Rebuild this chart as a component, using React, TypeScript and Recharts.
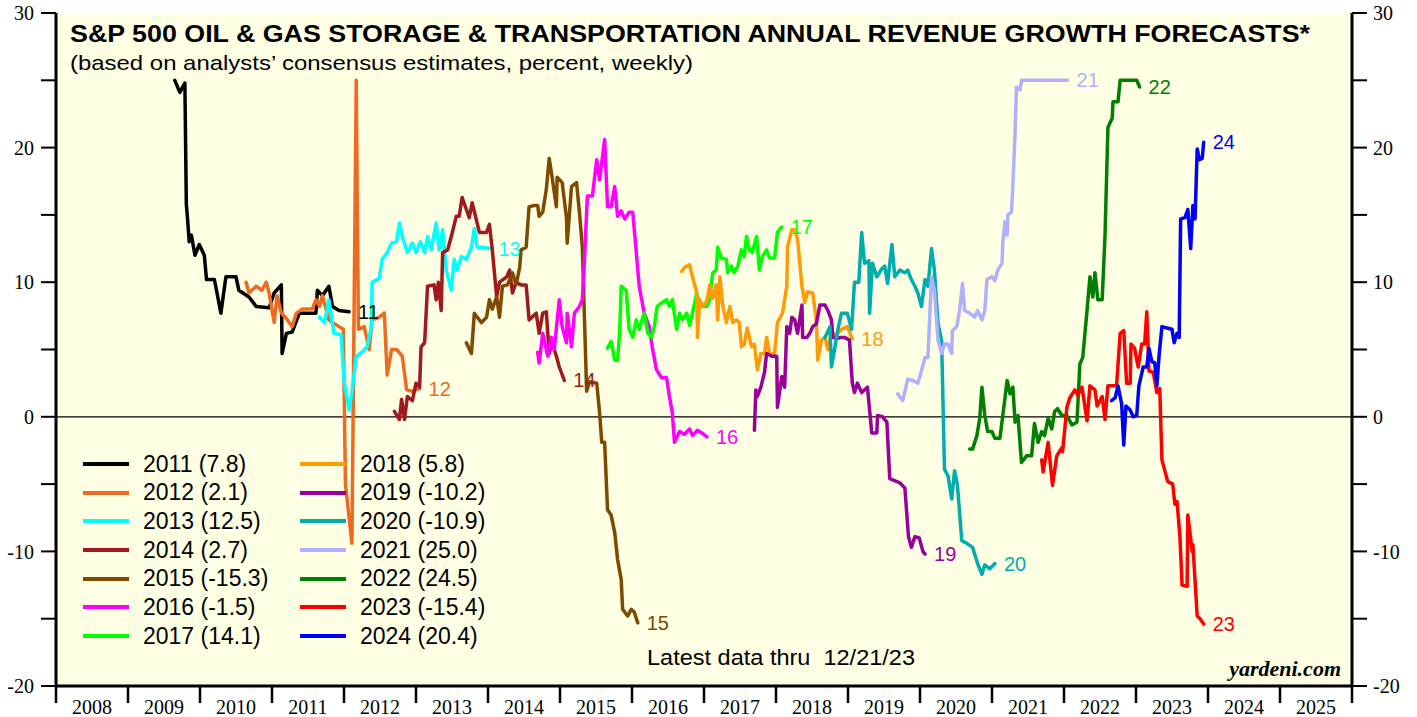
import React from 'react';
import { LineChart, Line, XAxis, YAxis, CartesianGrid, ReferenceLine, Legend, LabelList } from 'recharts';

type Pt = [number, number];

const YEAR_LABELS = ['2008','2009','2010','2011','2012','2013','2014','2015','2016','2017','2018','2019','2020','2021','2022','2023','2024','2025'];
const X_BOUNDARY_TICKS = [...YEAR_LABELS.map(Number), 2026];
const Y_TICKS = [-20, -15, -10, -5, 0, 5, 10, 15, 20, 25, 30];
const Y_LABELED = [-20, -10, 0, 10, 20, 30];

const s2011: Pt[] = [[2009.65,25.0],[2009.72,24.1],[2009.79,24.8],[2009.81,15.8],[2009.83,14.5],[2009.85,13.0],[2009.88,13.5],[2009.93,12.0],[2009.99,12.8],[2010.06,12.0],[2010.09,10.2],[2010.20,10.2],[2010.29,7.7],[2010.36,10.4],[2010.50,10.4],[2010.54,9.4],[2010.68,8.9],[2010.78,8.2],[2010.96,8.1],[2011.03,9.2],[2011.13,9.8],[2011.14,4.7],[2011.20,6.2],[2011.28,6.3],[2011.38,7.7],[2011.61,7.7],[2011.63,9.4],[2011.70,9.0],[2011.79,9.7],[2011.84,8.2],[2011.93,7.9],[2012.07,7.8]];
const s2012: Pt[] = [[2010.64,10.0],[2010.68,9.2],[2010.78,9.7],[2010.86,9.4],[2010.92,10.0],[2010.96,9.2],[2011.03,7.0],[2011.07,9.0],[2011.13,7.7],[2011.20,7.3],[2011.28,6.7],[2011.34,7.7],[2011.42,8.0],[2011.56,8.0],[2011.61,8.7],[2011.66,8.2],[2011.70,9.0],[2011.79,7.2],[2011.84,7.0],[2011.93,6.7],[2011.99,6.5],[2012.02,-5.0],[2012.11,-9.4],[2012.17,25.0],[2012.20,6.5],[2012.28,6.7],[2012.35,5.0],[2012.39,7.2],[2012.49,7.4],[2012.56,7.7],[2012.60,3.1],[2012.66,5.0],[2012.73,5.0],[2012.81,4.5],[2012.87,2.0],[2012.95,1.9],[2013.05,2.1]];
const s2013: Pt[] = [[2011.66,7.4],[2011.73,7.0],[2011.79,8.7],[2011.86,6.2],[2011.96,6.1],[2012.00,2.7],[2012.07,0.5],[2012.11,1.8],[2012.17,4.5],[2012.25,4.8],[2012.32,5.2],[2012.38,6.7],[2012.39,10.0],[2012.49,10.3],[2012.53,11.7],[2012.60,12.2],[2012.66,12.9],[2012.73,13.0],[2012.77,14.4],[2012.81,13.4],[2012.88,12.2],[2012.95,12.9],[2013.00,12.2],[2013.06,13.0],[2013.12,12.2],[2013.16,13.4],[2013.21,12.4],[2013.28,14.4],[2013.32,12.4],[2013.37,13.9],[2013.42,10.9],[2013.49,9.4],[2013.53,11.7],[2013.57,10.9],[2013.63,11.9],[2013.70,11.7],[2013.77,12.6],[2013.81,14.0],[2013.85,12.6],[2013.92,12.6],[2014.02,12.5]];
const s2014: Pt[] = [[2012.70,0.4],[2012.77,-0.2],[2012.80,1.3],[2012.84,-0.2],[2012.88,1.5],[2012.95,1.2],[2013.00,2.5],[2013.05,2.2],[2013.07,5.2],[2013.12,5.5],[2013.16,9.7],[2013.25,9.8],[2013.28,8.7],[2013.31,10.0],[2013.35,7.9],[2013.37,12.2],[2013.44,12.4],[2013.49,13.4],[2013.56,14.9],[2013.60,14.9],[2013.64,16.3],[2013.70,15.4],[2013.74,14.8],[2013.78,15.9],[2013.84,14.6],[2013.88,13.7],[2013.98,13.7],[2014.02,14.3],[2014.06,12.4],[2014.12,8.9],[2014.16,10.0],[2014.26,10.4],[2014.30,10.9],[2014.34,9.2],[2014.39,10.0],[2014.46,9.8],[2014.53,9.8],[2014.57,7.2],[2014.67,7.7],[2014.71,6.2],[2014.76,7.7],[2014.81,7.8],[2014.85,4.7],[2014.89,5.5],[2014.95,4.5],[2014.99,3.7],[2015.06,2.7]];
const s2015: Pt[] = [[2013.70,5.5],[2013.77,4.7],[2013.81,7.7],[2013.85,7.4],[2013.91,7.0],[2013.98,7.4],[2014.02,8.7],[2014.06,8.0],[2014.12,8.9],[2014.16,7.4],[2014.20,9.7],[2014.27,9.8],[2014.34,10.7],[2014.39,9.8],[2014.44,11.1],[2014.46,12.4],[2014.53,12.6],[2014.57,15.6],[2014.64,15.7],[2014.69,15.7],[2014.71,14.9],[2014.76,15.2],[2014.81,16.9],[2014.85,19.2],[2014.89,17.8],[2014.95,15.6],[2014.96,17.8],[2015.03,17.4],[2015.09,14.8],[2015.10,12.9],[2015.16,17.1],[2015.23,17.4],[2015.27,15.2],[2015.31,12.6],[2015.37,1.9],[2015.41,2.6],[2015.51,2.5],[2015.55,0.3],[2015.58,-1.9],[2015.62,-1.9],[2015.66,-6.9],[2015.71,-7.3],[2015.76,-8.6],[2015.80,-10.6],[2015.85,-12.1],[2015.87,-14.3],[2015.94,-14.8],[2015.99,-14.3],[2016.03,-14.5],[2016.08,-15.3]];
const s2016: Pt[] = [[2014.69,4.8],[2014.71,4.0],[2014.76,6.2],[2014.83,4.5],[2014.88,5.9],[2014.92,5.0],[2014.99,8.7],[2015.03,6.7],[2015.09,5.5],[2015.10,7.7],[2015.16,5.2],[2015.20,7.7],[2015.27,8.2],[2015.31,8.7],[2015.34,11.7],[2015.38,16.4],[2015.45,16.4],[2015.51,19.1],[2015.55,17.6],[2015.62,20.6],[2015.66,15.6],[2015.71,15.6],[2015.76,17.1],[2015.80,14.9],[2015.85,15.3],[2015.90,14.7],[2015.96,15.2],[2016.01,15.2],[2016.06,12.2],[2016.10,9.7],[2016.17,7.7],[2016.24,6.7],[2016.28,5.2],[2016.34,3.5],[2016.41,2.9],[2016.48,2.9],[2016.52,1.5],[2016.56,0.3],[2016.59,-1.9],[2016.66,-1.1],[2016.73,-1.3],[2016.80,-0.9],[2016.84,-1.4],[2016.91,-1.0],[2016.97,-1.2],[2017.04,-1.5]];
const s2017: Pt[] = [[2015.66,5.1],[2015.71,5.6],[2015.76,4.2],[2015.80,4.2],[2015.83,6.5],[2015.85,9.7],[2015.92,9.4],[2015.96,6.5],[2016.01,5.9],[2016.06,7.2],[2016.10,6.5],[2016.17,7.7],[2016.22,6.2],[2016.27,5.9],[2016.31,6.7],[2016.35,8.2],[2016.42,8.5],[2016.48,8.7],[2016.52,8.2],[2016.56,8.7],[2016.62,6.5],[2016.66,7.7],[2016.70,7.2],[2016.76,7.7],[2016.80,6.8],[2016.84,7.7],[2016.90,9.2],[2016.94,8.2],[2017.04,8.2],[2017.08,8.7],[2017.12,10.7],[2017.17,10.9],[2017.19,12.6],[2017.24,11.8],[2017.31,11.7],[2017.33,10.7],[2017.38,11.2],[2017.42,10.7],[2017.47,11.2],[2017.52,12.4],[2017.56,11.9],[2017.59,13.4],[2017.63,12.4],[2017.67,12.2],[2017.73,13.4],[2017.77,10.9],[2017.81,11.9],[2017.87,12.4],[2017.91,11.8],[2017.98,11.8],[2018.02,13.7],[2018.08,14.1]];
const s2018: Pt[] = [[2016.69,10.8],[2016.73,11.1],[2016.80,11.3],[2016.84,10.4],[2016.90,9.2],[2016.91,5.9],[2016.94,8.7],[2016.98,8.2],[2017.04,8.6],[2017.08,9.8],[2017.12,8.8],[2017.17,9.8],[2017.19,7.2],[2017.22,10.4],[2017.26,8.3],[2017.31,7.0],[2017.36,8.2],[2017.40,7.0],[2017.45,7.2],[2017.49,7.0],[2017.52,5.2],[2017.56,5.4],[2017.60,6.6],[2017.66,5.2],[2017.70,5.4],[2017.74,3.5],[2017.79,4.7],[2017.84,4.7],[2017.87,5.9],[2017.91,4.7],[2017.98,4.7],[2018.02,7.0],[2018.09,7.7],[2018.15,9.7],[2018.16,12.6],[2018.22,13.9],[2018.26,13.9],[2018.30,13.2],[2018.36,9.7],[2018.40,8.5],[2018.44,9.3],[2018.51,9.2],[2018.56,7.2],[2018.58,4.2],[2018.63,5.7],[2018.68,5.9],[2018.72,5.0],[2018.77,6.2],[2018.84,6.1],[2018.91,6.5],[2018.99,6.7],[2019.06,5.8]];
const s2019: Pt[] = [[2017.70,-1.0],[2017.72,2.0],[2017.74,1.5],[2017.79,2.2],[2017.84,3.3],[2017.87,4.7],[2017.94,4.5],[2018.01,4.5],[2018.02,0.7],[2018.08,3.0],[2018.12,2.2],[2018.15,6.7],[2018.19,6.2],[2018.22,7.4],[2018.26,7.2],[2018.30,6.2],[2018.36,8.3],[2018.37,5.9],[2018.43,5.9],[2018.47,6.2],[2018.51,6.7],[2018.56,6.9],[2018.61,8.3],[2018.68,8.3],[2018.72,7.9],[2018.77,7.2],[2018.79,5.9],[2018.84,5.8],[2018.90,5.9],[2018.95,5.9],[2019.02,5.7],[2019.06,2.5],[2019.09,1.8],[2019.13,2.5],[2019.19,1.8],[2019.27,2.2],[2019.33,-1.2],[2019.40,-1.2],[2019.41,0.1],[2019.48,0.0],[2019.54,-0.4],[2019.58,-4.6],[2019.72,-4.9],[2019.79,-5.3],[2019.84,-8.9],[2019.88,-9.7],[2019.93,-8.9],[2019.99,-9.0],[2020.04,-10.0],[2020.07,-10.2]];
const s2020: Pt[] = [[2018.68,5.9],[2018.75,6.7],[2018.77,3.7],[2018.81,4.9],[2018.86,6.5],[2018.91,7.7],[2018.99,7.7],[2019.05,6.5],[2019.09,10.0],[2019.15,10.0],[2019.19,13.7],[2019.23,11.4],[2019.29,11.6],[2019.30,7.7],[2019.34,11.4],[2019.40,10.4],[2019.47,11.0],[2019.51,11.2],[2019.55,9.9],[2019.61,12.8],[2019.65,10.4],[2019.72,10.9],[2019.79,10.7],[2019.83,10.9],[2019.88,10.2],[2019.93,9.7],[2019.97,9.2],[2020.02,8.2],[2020.07,10.2],[2020.11,9.7],[2020.16,12.5],[2020.20,10.9],[2020.25,6.9],[2020.30,5.7],[2020.34,-3.9],[2020.39,-4.4],[2020.44,-6.1],[2020.48,-4.0],[2020.52,-5.1],[2020.58,-9.2],[2020.65,-9.4],[2020.73,-9.7],[2020.80,-10.9],[2020.86,-11.7],[2020.90,-11.0],[2020.97,-11.3],[2021.04,-10.9]];
const s2021: Pt[] = [[2019.69,1.7],[2019.76,1.2],[2019.83,2.8],[2019.90,2.7],[2019.97,2.5],[2020.02,3.4],[2020.07,4.4],[2020.11,4.4],[2020.16,10.4],[2020.20,9.4],[2020.25,5.7],[2020.30,4.7],[2020.34,5.4],[2020.39,5.4],[2020.44,4.7],[2020.45,6.4],[2020.51,6.7],[2020.55,7.9],[2020.59,9.9],[2020.62,7.9],[2020.69,7.7],[2020.76,7.4],[2020.80,7.9],[2020.86,7.2],[2020.90,7.9],[2020.93,10.2],[2021.00,10.4],[2021.04,10.1],[2021.08,10.9],[2021.14,11.4],[2021.15,12.9],[2021.18,14.5],[2021.21,13.5],[2021.22,15.0],[2021.27,15.2],[2021.29,17.2],[2021.32,21.0],[2021.34,24.5],[2021.39,24.3],[2021.41,25.0],[2022.05,25.0]];
const s2022: Pt[] = [[2020.69,-2.4],[2020.73,-2.4],[2020.79,-1.4],[2020.83,-0.1],[2020.86,2.2],[2020.90,0.1],[2020.94,-1.1],[2021.00,-1.1],[2021.04,-1.6],[2021.11,-1.6],[2021.15,0.1],[2021.21,2.7],[2021.25,1.7],[2021.29,2.2],[2021.32,-0.4],[2021.36,0.1],[2021.41,-3.4],[2021.48,-2.9],[2021.55,-2.9],[2021.59,-0.5],[2021.64,-1.9],[2021.69,-1.1],[2021.73,-1.4],[2021.78,-0.1],[2021.83,-0.9],[2021.87,0.4],[2021.91,0.6],[2021.97,0.1],[2022.04,0.1],[2022.11,-0.6],[2022.18,-0.4],[2022.22,3.9],[2022.26,4.4],[2022.32,7.9],[2022.36,10.4],[2022.40,8.9],[2022.43,10.7],[2022.47,8.7],[2022.53,8.7],[2022.57,13.5],[2022.61,21.5],[2022.67,22.2],[2022.68,23.4],[2022.75,23.4],[2022.78,25.0],[2023.01,25.0],[2023.05,24.5]];
const s2023: Pt[] = [[2021.69,-3.2],[2021.71,-4.1],[2021.78,-1.9],[2021.84,-5.1],[2021.90,-2.9],[2021.97,-2.3],[2021.98,-2.6],[2022.04,0.7],[2022.08,1.4],[2022.15,2.0],[2022.19,1.6],[2022.25,2.2],[2022.32,-0.3],[2022.36,2.3],[2022.43,2.0],[2022.46,0.8],[2022.53,1.5],[2022.57,-0.2],[2022.61,2.3],[2022.73,2.3],[2022.78,6.2],[2022.83,6.4],[2022.87,2.5],[2022.92,2.5],[2022.93,5.4],[2022.98,5.1],[2023.03,3.7],[2023.08,5.4],[2023.12,5.4],[2023.15,7.8],[2023.18,3.4],[2023.24,3.3],[2023.29,1.8],[2023.33,2.1],[2023.36,-3.2],[2023.40,-4.0],[2023.44,-4.8],[2023.51,-5.0],[2023.54,-6.5],[2023.57,-6.3],[2023.61,-8.9],[2023.64,-12.5],[2023.71,-12.6],[2023.72,-7.3],[2023.78,-10.0],[2023.79,-9.5],[2023.85,-14.8],[2023.89,-15.0],[2023.94,-15.4]];
const s2024: Pt[] = [[2022.66,1.2],[2022.71,1.4],[2022.75,2.3],[2022.80,1.0],[2022.83,-2.1],[2022.86,0.8],[2022.92,0.5],[2022.96,0.0],[2023.01,0.1],[2023.04,2.3],[2023.10,3.7],[2023.15,3.7],[2023.18,5.1],[2023.22,4.1],[2023.26,4.0],[2023.29,2.3],[2023.32,4.5],[2023.36,6.7],[2023.43,6.6],[2023.50,6.5],[2023.53,5.5],[2023.57,6.2],[2023.60,5.9],[2023.62,14.7],[2023.68,14.8],[2023.72,15.4],[2023.76,12.5],[2023.79,15.7],[2023.82,14.7],[2023.85,19.9],[2023.88,19.1],[2023.92,19.2],[2023.94,20.4]];

const SERIES_YEARS = ['2011','2012','2013','2014','2015','2016','2017','2018','2019','2020','2021','2022','2023','2024'];
const SERIES_FINAL = ['7.8','2.1','12.5','2.7','-15.3','-1.5','14.1','5.8','-10.2','-10.9','25.0','24.5','-15.4','20.4'];
const SERIES_COLORS = ['#000000','#EE6A22','#00FFFF','#9E1A1E','#7D4A00','#FF00FF','#00FF00','#FF9A08','#990099','#00ADAD','#B0B0FF','#007F00','#FF0000','#0000FF'];
const SERIES_DATA: Pt[][] = [s2011,s2012,s2013,s2014,s2015,s2016,s2017,s2018,s2019,s2020,s2021,s2022,s2023,s2024];

const TITLE = 'S&P 500 OIL & GAS STORAGE & TRANSPORTATION ANNUAL REVENUE GROWTH FORECASTS*';
const SUBTITLE = '(based on analysts\u2019 consensus estimates, percent, weekly)';
const NOTE = 'Latest data thru  12/21/23';
const SOURCE = 'yardeni.com';

const SANS = '"Liberation Sans", Arial, Helvetica, sans-serif';
const SERIF = '"Liberation Serif", "Times New Roman", Times, serif';

const series = SERIES_YEARS.map((yr, i) => ({
  name: `${yr} (${SERIES_FINAL[i]})`,
  tag: yr.slice(2),
  color: SERIES_COLORS[i],
  data: SERIES_DATA[i].map(([x, y]) => ({ x, y })),
}));

const YearTick = (props: any) => {
  const { x, y, payload, visibleTicksCount, width } = props;
  const count = (typeof visibleTicksCount === 'number' && visibleTicksCount > 1 ? visibleTicksCount : X_BOUNDARY_TICKS.length) - 1;
  const axisW = typeof width === 'number' && width > 200 ? width : 1296;
  const half = axisW / count / 2;
  const v = Number(payload.value);
  const isLast = v >= X_BOUNDARY_TICKS[X_BOUNDARY_TICKS.length - 1];
  return (
    <g>
      <line x1={x} x2={x} y1={y} y2={y + 17} stroke="#000" strokeWidth={2.5} />
      {!isLast && (
        <text x={x + half} y={y + 28} textAnchor="middle" fontFamily={SERIF} fontSize={20} fill="#000">{String(v)}</text>
      )}
    </g>
  );
};

const renderLegend = (props: any) => {
  const payload = props.payload || [];
  return (
    <div style={{ display: 'grid', gridTemplateColumns: '217px 217px', gridTemplateRows: 'repeat(7, 28.7px)', gridAutoFlow: 'column' }}>
      {payload.map((p: any, i: number) => (
        <div key={i} style={{ display: 'flex', alignItems: 'center', height: 28.7 }}>
          <span style={{ display: 'inline-block', width: 46, height: 4, background: p.color, marginRight: 14 }} />
          <span style={{ fontFamily: SANS, fontSize: 23, color: '#000', whiteSpace: 'nowrap', lineHeight: '28.7px' }}>{p.value}</span>
        </div>
      ))}
    </div>
  );
};

const makeEndLabel = (s: { tag: string; color: string; data: any[] }) => (props: any) => {
  const { x, y, index } = props;
  if (index !== s.data.length - 1) return null;
  return (
    <text x={x + 9} y={y} dy={7} fill={s.color} fontSize={20} fontFamily={SANS}>{s.tag}</text>
  );
};

export default function App() {
  return (
    <div style={{ position: 'absolute', left: 0, top: 0, width: 1417, height: 717, background: '#fff' }}>
      <LineChart width={1417} height={717} margin={{ top: 13, right: 25, bottom: 0, left: 16 }}>
        <CartesianGrid fill="#FFFFE4" horizontal={false} vertical={false} stroke="none" />
        <XAxis xAxisId={0} dataKey="x" type="number" domain={[2008, 2026]} allowDataOverflow ticks={X_BOUNDARY_TICKS} interval={0}
          tick={<YearTick />} tickSize={0} tickMargin={0} height={31} tickLine={false} axisLine={{ stroke: '#000', strokeWidth: 3 }} />
        <XAxis xAxisId="top" orientation="top" dataKey="x" type="number" domain={[2008, 2026]} allowDataOverflow height={0} tick={false} tickLine={false}
          axisLine={{ stroke: '#000', strokeWidth: 3 }} />
        <YAxis yAxisId={0} type="number" domain={[-20, 30]} allowDataOverflow ticks={Y_TICKS} interval={0} width={40}
          tickFormatter={(v: number) => (Y_LABELED.includes(v) ? String(v) : '')} tickSize={15} tickMargin={7}
          tickLine={{ stroke: '#000', strokeWidth: 2 }} axisLine={{ stroke: '#000', strokeWidth: 3 }} tick={{ fontFamily: SERIF, fontSize: 20, fill: '#000' }} />
        <YAxis yAxisId="right" orientation="right" type="number" domain={[-20, 30]} allowDataOverflow ticks={Y_TICKS} interval={0} width={40}
          tickFormatter={(v: number) => (Y_LABELED.includes(v) ? String(v) : '')} tickSize={15} tickMargin={6}
          tickLine={{ stroke: '#000', strokeWidth: 2 }} axisLine={{ stroke: '#000', strokeWidth: 3 }} tick={{ fontFamily: SERIF, fontSize: 20, fill: '#000' }} />
        <ReferenceLine y={0} stroke="#000" strokeWidth={1.2} />
        {series.map((s) => (
          <Line key={s.name} name={s.name} data={s.data} dataKey="y" type="linear" stroke={s.color} strokeWidth={3.5}
            dot={false} activeDot={false} isAnimationActive={false} strokeLinejoin="round" strokeLinecap="round">
            <LabelList dataKey="y" content={makeEndLabel(s)} />
          </Line>
        ))}
        <Legend layout="vertical" align="center" verticalAlign="middle" content={renderLegend}
          wrapperStyle={{ left: 83, top: 449.6, width: 440, height: 201 }} />
      </LineChart>
      <svg width={1417} height={717} style={{ position: 'absolute', left: 0, top: 0, pointerEvents: 'none' }}>
        <text x={70} y={42} fontFamily={SANS} fontWeight="bold" fontSize={24} textLength={1240} lengthAdjust="spacingAndGlyphs" fill="#000">{TITLE}</text>
        <text x={70} y={70} fontFamily={SANS} fontSize={21} textLength={623} lengthAdjust="spacingAndGlyphs" fill="#000">{SUBTITLE}</text>
        <text x={647} y={665} fontFamily={SANS} fontSize={22} textLength={268} lengthAdjust="spacingAndGlyphs" fill="#000" style={{ whiteSpace: 'pre' }}>{NOTE}</text>
        <text x={1341} y={676} fontFamily={SERIF} fontWeight="bold" fontStyle="italic" fontSize={22} textAnchor="end" fill="#000">{SOURCE}</text>
      </svg>
    </div>
  );
}
